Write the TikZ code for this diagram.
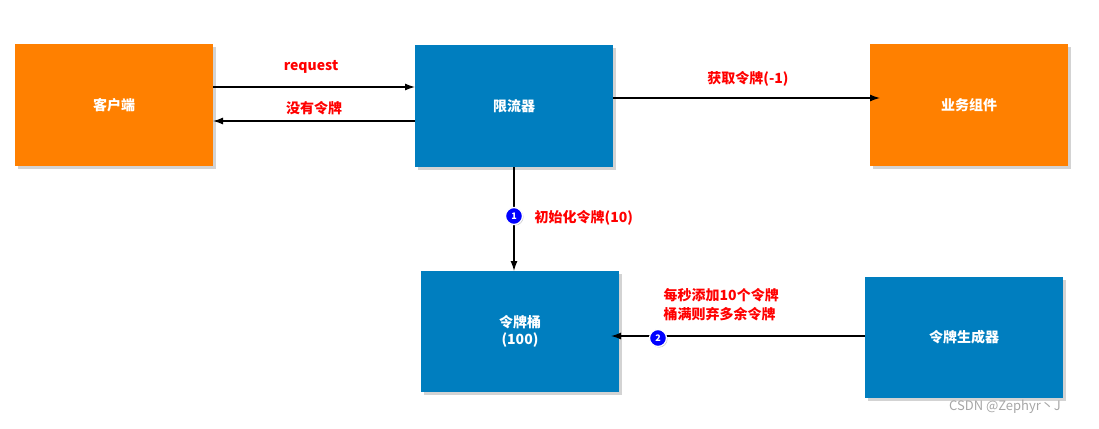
\documentclass[tikz,border=0pt]{standalone}
\usepackage{fontspec}
\setmainfont{Noto Sans CJK SC}
\usetikzlibrary{shadows,arrows.meta}
\definecolor{bxorange}{RGB}{255,128,0}
\definecolor{bxblue}{RGB}{0,126,191}
\tikzset{
 box/.style={minimum width=198pt,minimum height=121pt,inner sep=0pt,text=white,font=\fontsize{14}{17}\selectfont\bfseries,align=center,drop shadow={opacity=0.35,shadow xshift=3pt,shadow yshift=-3pt}},
 obox/.style={box,fill=bxorange},
 bbox/.style={box,fill=bxblue},
 lbl/.style={text=red,font=\fontsize{14}{17}\selectfont\bfseries,fill=white,rounded corners=4pt,inner sep=1.5pt,align=left},
 arr/.style={draw=black,line width=1.3pt,-{Latex[length=10pt,width=7pt]}},
 num/.style={circle,fill=blue,draw=white,line width=1.3pt,text=white,font=\fontsize{9}{10}\selectfont\bfseries,inner sep=0pt,minimum size=17pt,drop shadow={opacity=0.4,shadow xshift=1pt,shadow yshift=-1pt}}
}
\begin{document}
\begin{tikzpicture}[x=1pt,y=-1pt]
\useasboundingbox (0,0) rectangle (1099,428);
\node[obox] (client) at (114,105) {客户端};
\node[bbox] (limit) at (514,106) {限流器};
\node[obox] (biz) at (969,105) {业务组件};
\node[bbox] (bucket) at (520,331) {令牌桶\\(100)};
\node[bbox] (gen) at (964,337) {令牌生成器};
\coordinate (c1) at (213,87);
\coordinate (l1) at (415,87);
\draw[arr] (c1) -- (l1);
\coordinate (l2) at (415,121);
\coordinate (c2) at (213,121);
\draw[arr] (l2) -- (c2);
\coordinate (l3) at (613,98);
\coordinate (b3) at (880,98);
\draw[arr] (l3) -- (b3);
\coordinate (l4) at (514,167);
\coordinate (k4) at (514,271);
\draw[arr] (l4) -- (k4);
\coordinate (g5) at (865,336);
\coordinate (k5) at (611,336);
\draw[arr] (g5) -- (k5);
\node[lbl] (t1) at (311,67) {request};
\node[lbl] (t2) at (314,108) {没有令牌};
\node[lbl] (t3) at (748,79) {获取令牌(-1)};
\node[num] (n1) at (514,216) {1};
\node[lbl,anchor=west] (t4) at (533,218) {初始化令牌(10)};
\node[num] (n2) at (658,338) {2};
\node[lbl,anchor=west,font=\fontsize{14}{19}\selectfont\bfseries] (t5) at (662,305) {每秒添加10个令牌\\桶满则弃多余令牌};
\node[text=gray!70,font=\fontsize{13}{15}\selectfont] (wm) at (1005,407) {CSDN @Zephyr丶J};
\end{tikzpicture}
\end{document}
